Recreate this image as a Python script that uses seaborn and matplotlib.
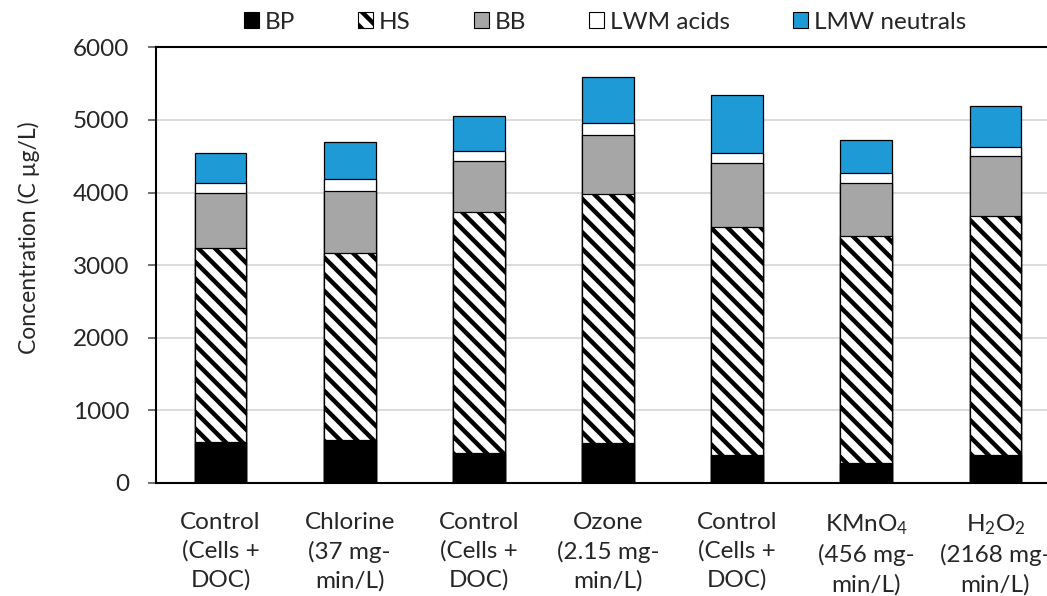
import numpy as np
import pandas as pd
import matplotlib
matplotlib.use("Agg")
import matplotlib.pyplot as plt
from matplotlib.patches import Patch
import seaborn as sns

# categories (x tick labels)
labels = [
    "Control\n(Cells +\nDOC)",
    "Chlorine\n(37 mg-\nmin/L)",
    "Control\n(Cells +\nDOC)",
    "Ozone\n(2.15 mg-\nmin/L)",
    "Control\n(Cells +\nDOC)",
    "KMnO$_4$\n(456 mg-\nmin/L)",
    "H$_2$O$_2$\n(2168 mg-\nmin/L)",
]

# fractions, C ug/L
bp = [565, 589, 414, 552, 386, 276, 382]
hs = [2668, 2575, 3316, 3430, 3137, 3123, 3301]
bb = [759, 859, 707, 804, 887, 735, 827]
lwm_acids = [138, 170, 134, 175, 138, 128, 111]
lmw_neutrals = [413, 497, 483, 631, 800, 455, 571]

series = ["BP", "HS", "BB", "LWM acids", "LMW neutrals"]
colors = {"BP": "black", "HS": "white", "BB": "#A6A6A6",
          "LWM acids": "white", "LMW neutrals": "#1E9BD7"}
hatch_map = {"HS": "\\\\"}

sns.set_style("white")
plt.rcParams["font.family"] = ["Lato", "DejaVu Sans"]
plt.rcParams["mathtext.default"] = "regular"
plt.rcParams["hatch.linewidth"] = 3.2
plt.rcParams["hatch.color"] = "black"

FS = 17.5

df = pd.DataFrame({"pos": np.arange(len(labels)), "BP": bp, "HS": hs, "BB": bb,
                   "LWM acids": lwm_acids, "LMW neutrals": lmw_neutrals})

# cumulative tops, drawn from the tallest down so lower layers cover upper ones
cum = df[series].cumsum(axis=1)

fig = plt.figure(figsize=(10.47, 5.96), dpi=100)
ax = fig.add_axes([0.149, 0.190, 0.8634, 0.7305])

for name in reversed(series):
    sns.barplot(x=df["pos"], y=cum[name], ax=ax, color=colors[name],
                hatch=hatch_map.get(name, None), edgecolor="black",
                linewidth=0.9, width=0.4, errorbar=None, saturation=1,
                zorder=3)

ax.set_ylim(0, 6000)
ax.set_xlim(-0.5, 6.5)
ax.set_yticks(range(0, 6001, 1000))
ax.yaxis.grid(True, color="#D9D9D9", linewidth=1.3, zorder=0)
ax.set_axisbelow(True)

ax.set_xticks(range(len(labels)))
ax.set_xticklabels(labels, fontsize=FS, linespacing=1.42)
ax.tick_params(axis="x", length=0, pad=21)
ax.tick_params(axis="y", labelsize=FS, length=6, width=1.2, color="#595959",
               direction="out", left=True, pad=13)

ax.set_xlabel("")
ax.set_ylabel("Concentration (C µg/L)", fontsize=16.5)
ax.yaxis.set_label_coords(-0.128, 0.562)

for s in ["top", "left", "bottom"]:
    ax.spines[s].set_color("black")
    ax.spines[s].set_linewidth(1.5)
ax.spines["right"].set_visible(False)

handles = [Patch(facecolor=colors[n], edgecolor="black", linewidth=0.8,
                 hatch=hatch_map.get(n, None)) for n in series]
fig.legend(handles, series, loc="center", bbox_to_anchor=(0.578, 0.963),
           ncol=5, frameon=False, fontsize=FS, handlelength=0.6,
           handleheight=0.6, handletextpad=0.25, columnspacing=2.6)

fig.savefig("out.png", dpi=100)
